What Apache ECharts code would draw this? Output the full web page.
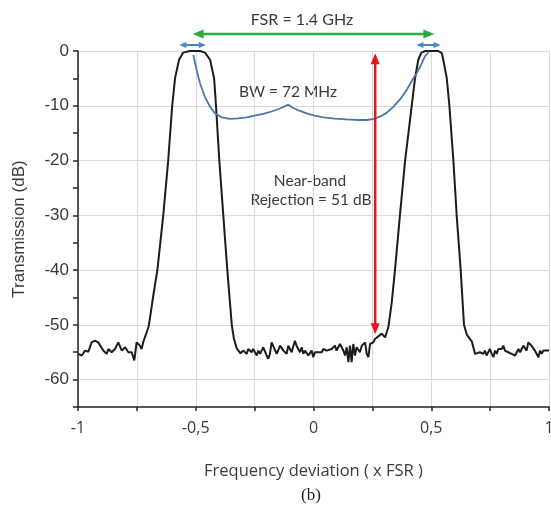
<!DOCTYPE html>
<html><head><meta charset="utf-8">
<script src="https://cdn.jsdelivr.net/npm/echarts@6/dist/echarts.min.js"></script>
<style>html,body{margin:0;padding:0;background:#fff}#c{width:551px;height:507px}</style>
</head><body><div id="c"></div>
<script>
// ---- data (x in units of FSR, y in dB) ----
const floorLeft = [[-1.000,-55.3],[-0.984,-55.6],[-0.970,-54.7],[-0.956,-54.9],[-0.942,-53.2],[-0.928,-52.9],[-0.914,-53.2],[-0.907,-52.9],[-0.893,-54.7],[-0.878,-55.3],[-0.871,-54.4],[-0.857,-55.0],[-0.843,-54.4],[-0.829,-53.2],[-0.814,-54.7],[-0.800,-54.1],[-0.786,-55.0],[-0.772,-55.0],[-0.761,-56.5],[-0.751,-53.2],[-0.737,-53.8],[-0.730,-54.4],[-0.722,-53.0],[-0.712,-51.8]];
const lobeLeft = [[-0.700,-50.3],[-0.690,-47.5],[-0.678,-44],[-0.663,-40],[-0.638,-30],[-0.617,-20],[-0.600,-10],[-0.588,-5],[-0.571,-1.6],[-0.554,-0.3],[-0.524,0],[-0.482,0],[-0.461,-0.3],[-0.439,-1.6],[-0.422,-5],[-0.414,-10],[-0.400,-20],[-0.383,-30],[-0.366,-40],[-0.347,-50],[-0.338,-52.5],[-0.326,-54.3],[-0.310,-55.2]];
const floorMid = [[-0.298,-54.7],[-0.284,-55.3],[-0.277,-54.4],[-0.263,-55.0],[-0.256,-54.4],[-0.241,-55.6],[-0.234,-54.7],[-0.227,-55.3],[-0.213,-54.1],[-0.199,-55.6],[-0.192,-56.2],[-0.185,-55.3],[-0.178,-53.2],[-0.171,-53.5],[-0.156,-55.3],[-0.149,-55.0],[-0.142,-53.8],[-0.128,-54.7],[-0.121,-54.4],[-0.114,-55.3],[-0.107,-53.8],[-0.093,-55.0],[-0.079,-52.9],[-0.072,-53.8],[-0.064,-53.5],[-0.057,-55.0],[-0.050,-54.1],[-0.043,-55.3],[-0.036,-54.7],[-0.022,-55.6],[-0.015,-55.3],[-0.008,-54.7],[-0.001,-55.9],[0.006,-55.0],[0.020,-55.0],[0.028,-54.7],[0.035,-55.0],[0.042,-54.4],[0.056,-54.7],[0.063,-55.0],[0.077,-54.4],[0.091,-53.8],[0.098,-54.7],[0.105,-55.0],[0.112,-53.5],[0.120,-53.8],[0.127,-54.7],[0.134,-55.6],[0.141,-54.1],[0.148,-56.8],[0.155,-53.8],[0.162,-56.8],[0.169,-53.5],[0.176,-55.6],[0.183,-54.1],[0.190,-54.4],[0.197,-55.0],[0.205,-53.8],[0.219,-53.2],[0.226,-55.3],[0.233,-55.9],[0.240,-53.5],[0.247,-53.8],[0.254,-53.2],[0.261,-52.6],[0.268,-52.3],[0.290,-51.6],[0.304,-52.3],[0.318,-50.4]];
const lobeRight = [[0.332,-46],[0.346,-40],[0.367,-30],[0.389,-20],[0.417,-10],[0.431,-5],[0.445,-1.6],[0.458,-0.3],[0.475,0],[0.530,0],[0.545,-0.4],[0.551,-1.6],[0.566,-5],[0.577,-10],[0.594,-20],[0.608,-30],[0.625,-40],[0.639,-50],[0.651,-51.8],[0.672,-53],[0.686,-55.3]];
const floorRight = [[0.693,-55.0],[0.707,-55.0],[0.721,-55.3],[0.728,-54.7],[0.735,-55.6],[0.742,-55.0],[0.749,-54.4],[0.757,-55.3],[0.764,-55.9],[0.771,-54.7],[0.778,-55.3],[0.785,-54.4],[0.799,-54.4],[0.806,-53.8],[0.813,-54.7],[0.827,-55.0],[0.841,-55.3],[0.856,-55.6],[0.863,-55.3],[0.870,-54.4],[0.877,-55.0],[0.884,-54.4],[0.891,-53.8],[0.898,-53.5],[0.905,-54.7],[0.912,-53.2],[0.919,-52.9],[0.926,-53.8],[0.933,-53.5],[0.940,-54.7],[0.948,-54.4],[0.955,-55.9],[0.962,-54.7],[0.969,-55.3],[0.976,-54.7],[0.983,-55.0],[1.000,-54.7]];
const bwCurve = [[-0.510,-0.7],[-0.503,-2.2],[-0.496,-3.5],[-0.482,-5.9],[-0.461,-8.4],[-0.439,-10.2],[-0.418,-11.4],[-0.390,-12.1],[-0.355,-12.4],[-0.320,-12.3],[-0.284,-12.1],[-0.250,-11.8],[-0.213,-11.5],[-0.175,-11.0],[-0.142,-10.5],[-0.107,-9.8],[-0.086,-10.4],[-0.060,-10.9],[-0.029,-11.4],[0.005,-11.8],[0.042,-12.1],[0.090,-12.35],[0.141,-12.5],[0.190,-12.6],[0.226,-12.6],[0.255,-12.4],[0.282,-12.0],[0.310,-11.3],[0.339,-10.2],[0.368,-8.8],[0.396,-7.1],[0.418,-5.4],[0.438,-4.1],[0.456,-2.6],[0.473,-1.0],[0.490,-0.1]];
const xTickText = {'-1':'-1','-0.5':'-0,5','0':'0','0.5':'0,5','1':'1'};
// annotation arrows [x,y] end points
const fsrArrow = [[-0.49,3.1],[0.49,3.1]];
const bwArrowL = [[-0.555,1.1],[-0.472,1.1]];
const bwArrowR = [[0.452,1.1],[0.525,1.1]];
const rejArrow = [[0.262,-1.4],[0.262,-50.7]];

const black = [].concat(floorLeft, lobeLeft, floorMid, lobeRight, floorRight);
const chart = echarts.init(document.getElementById('c'), null, {renderer:'canvas'});
const txt = '#3a3a3a';
function arrowSeries(pts, color, width, size, rots){
  return {type:'line', data:pts.map((p,i)=>({value:p, symbolRotate:rots[i]})), clip:false, symbol:'triangle', symbolSize:size, showSymbol:true,
    lineStyle:{color:color,width:width}, itemStyle:{color:color}, silent:true, z:5, animation:false};
}
chart.setOption({
  animation:false,
  grid:{left:78, right:2, top:51, bottom:100, containLabel:false, outerBoundsMode:'none'},
  xAxis:{type:'value', min:-1, max:1, interval:0.25,
    axisLine:{show:true, onZero:false, lineStyle:{color:'#222', width:1.5}},
    axisTick:{show:true, length:4, lineStyle:{color:'#222', width:1.5}},
    axisLabel:{formatter:v=>xTickText[String(v)]||'', fontSize:16, color:txt, margin:13, fontFamily:'Open Sans', showMaxLabel:true, showMinLabel:true},
    splitLine:{show:true, lineStyle:{color:'#d9d9d9', width:1}},
    name:'Frequency deviation ( x FSR )', nameLocation:'middle', nameGap:56,
    nameTextStyle:{fontSize:16.5, color:txt, fontFamily:'Open Sans'}},
  yAxis:{type:'value', min:-65, max:0, interval:5,
    axisLine:{show:true, onZero:false, lineStyle:{color:'#222', width:1.5}},
    axisTick:{show:true, length:5, lineStyle:{color:'#222', width:1.5}},
    axisLabel:{formatter:v=>(v%10===0?String(v):''), fontSize:17, color:txt, margin:9, fontFamily:'Liberation Sans'},
    splitLine:{show:true, lineStyle:{color:['transparent','#d9d9d9'], width:1}},
    name:'Transmission (dB)', nameLocation:'middle', nameGap:50, nameRotate:90,
    nameTextStyle:{fontSize:17, color:txt, fontFamily:'Liberation Sans'}},
  series:[
    {type:'line', data:black, showSymbol:false, clip:false, lineStyle:{color:'#1c1c1c', width:2}, z:3, silent:true},
    {type:'line', data:bwCurve, showSymbol:false, clip:false, lineStyle:{color:'#4c76a6', width:1.8}, z:4, silent:true},
    arrowSeries(fsrArrow, '#2eaa3f', 2.5, [9,11], [90,-90]),
    arrowSeries(bwArrowL, '#4a86c6', 2, [6,7], [90,-90]),
    arrowSeries(bwArrowR, '#4a86c6', 2, [6,7], [90,-90]),
    arrowSeries(rejArrow, '#e8141c', 2.5, [9,11], [0,180])
  ],
  graphic:[
    {type:'text', style:{text:'FSR = 1.4 GHz', x:302, y:20, align:'center', verticalAlign:'middle', font:'16px Lato', fill:txt}},
    {type:'text', style:{text:'BW = 72 MHz', x:288, y:92, align:'center', verticalAlign:'middle', font:'15.5px Lato', fill:txt}},
    {type:'text', style:{text:'Near-band', x:310, y:181, align:'center', verticalAlign:'middle', font:'15.5px Lato', fill:txt}},
    {type:'text', style:{text:'Rejection = 51 dB', x:311, y:200, align:'center', verticalAlign:'middle', font:'15.5px Lato', fill:txt}},
    {type:'text', style:{text:'(b)', x:311, y:496, align:'center', verticalAlign:'middle', font:'17px "Liberation Serif"', fill:'#222'}}
  ]
});
</script></body></html>
